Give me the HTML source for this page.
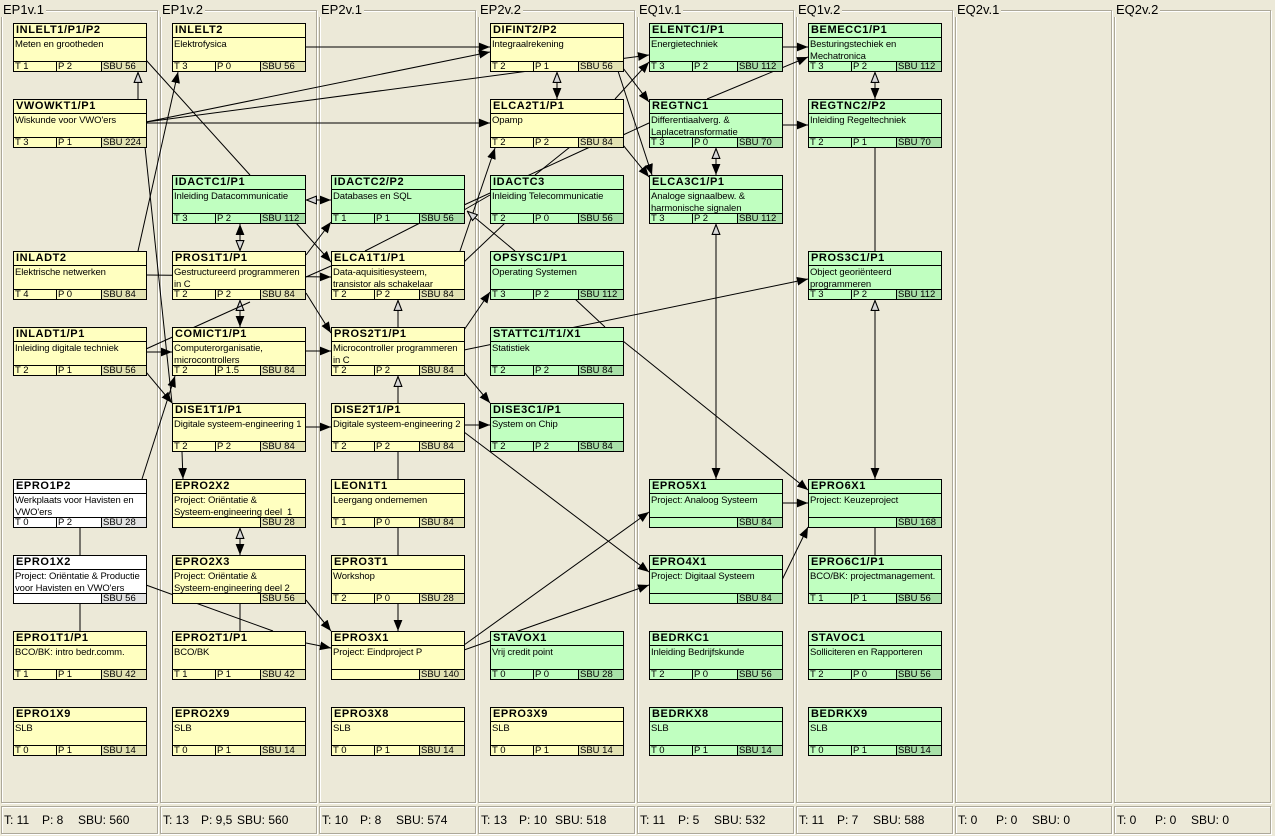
<!DOCTYPE html>
<html><head><meta charset="utf-8"><style>
*{box-sizing:border-box;margin:0;padding:0}
body{width:1275px;height:836px;background:#ece9d8;position:relative;overflow:hidden;font-family:"Liberation Sans",sans-serif;}
.col{position:absolute;top:10px;width:157px;height:793px;border:1px solid #aca899;box-shadow:inset 1px 1px 0 #fff,1px 1px 0 #fff}
.lab{position:absolute;top:3px;font-size:13px;background:#ece9d8;padding:0 2px 0 2px;color:#000;line-height:14px}
.ft{position:absolute;top:806px;width:157px;height:28px;border:1px solid #aca899;box-shadow:inset 1px 1px 0 #fff,1px 1px 0 #fff;font-size:12px}
.ft span{position:absolute;top:6px;white-space:nowrap}
.b{position:absolute;width:134px;height:49px;border:1px solid #000;background:#ffffc0}
.b.g{background:#c0ffc0}.b.w{background:#fff}
.t{height:14px;border-bottom:1px solid #000;font-weight:bold;font-size:11px;line-height:13px;padding-left:2px;letter-spacing:.6px;white-space:nowrap}
.d{height:23px;font-size:9.5px;line-height:12px;padding:1px 0 0 1px;overflow:hidden;letter-spacing:-0.1px}
.f{height:10px;border-top:1px solid #000;font-size:9.5px;line-height:9px;display:flex}
.f div{padding-left:1px;overflow:hidden;white-space:nowrap}
.f .c1{width:42px}.f .c2{width:45px;border-left:1px solid #000}.f .c3{flex:1;border-left:1px solid #000;background:#e3e3b3}
.g .f .c3{background:#a8e0a8}.w .f .c3{background:#e2e2e2}
svg{position:absolute;left:0;top:0}
</style></head><body>
<div class="col" style="left:1px"></div><div class="col" style="left:160px"></div><div class="col" style="left:319px"></div><div class="col" style="left:478px"></div><div class="col" style="left:637px"></div><div class="col" style="left:796px"></div><div class="col" style="left:955px"></div><div class="col" style="left:1114px"></div>
<div class="lab" style="left:1px">EP1v.1</div><div class="lab" style="left:160px">EP1v.2</div><div class="lab" style="left:319px">EP2v.1</div><div class="lab" style="left:478px">EP2v.2</div><div class="lab" style="left:637px">EQ1v.1</div><div class="lab" style="left:796px">EQ1v.2</div><div class="lab" style="left:955px">EQ2v.1</div><div class="lab" style="left:1114px">EQ2v.2</div>

<svg width="1275" height="836">
<defs>
<marker id="f" viewBox="0 0 10 8" refX="10" refY="4" markerWidth="11" markerHeight="9" markerUnits="userSpaceOnUse" orient="auto-start-reverse"><path d="M0,0L10,4L0,8z" fill="#000"/></marker>
<marker id="h" viewBox="0 0 10 8" refX="10" refY="4" markerWidth="11" markerHeight="9" markerUnits="userSpaceOnUse" orient="auto-start-reverse"><path d="M0.5,0.5L9.5,4L0.5,7.5z" fill="#d8d8d8" stroke="#000" stroke-width="1"/></marker>
</defs>
<g stroke="#000" stroke-width="1" fill="none">
<line x1="306" y1="47" x2="490" y2="47" marker-end="url(#f)"/>
<line x1="146" y1="122" x2="490" y2="52" marker-end="url(#f)"/>
<line x1="146" y1="122" x2="649" y2="55" marker-end="url(#f)"/>
<line x1="146" y1="123" x2="490" y2="123" marker-end="url(#f)"/>
<line x1="146" y1="60" x2="250" y2="175"/>
<line x1="138" y1="99" x2="138" y2="72" marker-end="url(#h)"/>
<line x1="138" y1="251" x2="178" y2="72" marker-end="url(#f)"/>
<line x1="145" y1="147" x2="172" y2="403"/>
<line x1="146" y1="275" x2="331" y2="277" marker-end="url(#f)"/>
<line x1="306" y1="277" x2="331" y2="266"/>
<line x1="306" y1="255" x2="331" y2="222" marker-end="url(#f)"/>
<line x1="306" y1="200" x2="331" y2="200" marker-start="url(#h)" marker-end="url(#f)"/>
<line x1="296" y1="223" x2="331" y2="262" marker-end="url(#f)"/>
<line x1="240" y1="224" x2="240" y2="251" marker-start="url(#f)" marker-end="url(#h)"/>
<line x1="240" y1="300" x2="240" y2="327" marker-start="url(#h)" marker-end="url(#f)"/>
<line x1="306" y1="293" x2="331" y2="333" marker-end="url(#f)"/>
<line x1="420" y1="223" x2="365" y2="251"/>
<line x1="398" y1="327" x2="398" y2="300" marker-end="url(#h)"/>
<line x1="398" y1="403" x2="398" y2="376" marker-end="url(#h)"/>
<line x1="306" y1="351" x2="331" y2="351" marker-end="url(#f)"/>
<line x1="146" y1="352" x2="172" y2="352" marker-end="url(#f)"/>
<line x1="146" y1="349" x2="250" y2="302"/>
<line x1="146" y1="372" x2="172" y2="403" marker-end="url(#f)"/>
<line x1="464" y1="330" x2="490" y2="292" marker-end="url(#f)"/>
<line x1="464" y1="350" x2="808" y2="279" marker-end="url(#f)"/>
<line x1="464" y1="372" x2="490" y2="403" marker-end="url(#f)"/>
<line x1="460" y1="251" x2="495" y2="148" marker-end="url(#f)"/>
<line x1="464" y1="262" x2="505" y2="223"/>
<line x1="464" y1="210" x2="490" y2="195"/>
<line x1="515" y1="251" x2="467" y2="211" marker-end="url(#h)"/>
<line x1="535" y1="175" x2="570" y2="147"/>
<line x1="464" y1="205" x2="590" y2="147"/>
<line x1="557" y1="72" x2="557" y2="99" marker-start="url(#h)" marker-end="url(#f)"/>
<line x1="623" y1="68" x2="649" y2="102" marker-end="url(#f)"/>
<line x1="618" y1="71" x2="652" y2="175" marker-end="url(#f)"/>
<line x1="615" y1="99" x2="649" y2="62" marker-end="url(#f)"/>
<line x1="623" y1="135" x2="649" y2="123"/>
<line x1="623" y1="145" x2="649" y2="177" marker-end="url(#f)"/>
<line x1="707" y1="99" x2="808" y2="57" marker-end="url(#f)"/>
<line x1="782" y1="47" x2="808" y2="47" marker-end="url(#f)"/>
<line x1="782" y1="125" x2="808" y2="125" marker-end="url(#f)"/>
<line x1="875" y1="72" x2="875" y2="99" marker-start="url(#h)" marker-end="url(#f)"/>
<line x1="716" y1="148" x2="716" y2="175" marker-start="url(#h)" marker-end="url(#f)"/>
<line x1="716" y1="224" x2="716" y2="479" marker-start="url(#h)" marker-end="url(#f)"/>
<line x1="875" y1="147" x2="875" y2="251"/>
<line x1="875" y1="300" x2="875" y2="479" marker-start="url(#h)" marker-end="url(#f)"/>
<line x1="575" y1="299" x2="605" y2="327"/>
<line x1="623" y1="341" x2="808" y2="490" marker-end="url(#f)"/>
<line x1="782" y1="503" x2="808" y2="503" marker-end="url(#f)"/>
<line x1="782" y1="580" x2="808" y2="527" marker-end="url(#f)"/>
<line x1="875" y1="527" x2="875" y2="555"/>
<line x1="464" y1="425" x2="490" y2="425" marker-end="url(#f)"/>
<line x1="306" y1="427" x2="331" y2="427" marker-end="url(#f)"/>
<line x1="464" y1="432" x2="649" y2="572" marker-end="url(#f)"/>
<line x1="182" y1="452" x2="183" y2="479" marker-end="url(#f)"/>
<line x1="240" y1="528" x2="240" y2="555" marker-start="url(#h)" marker-end="url(#f)"/>
<line x1="398" y1="451" x2="398" y2="479"/>
<line x1="398" y1="527" x2="398" y2="555"/>
<line x1="398" y1="603" x2="398" y2="631" marker-end="url(#f)"/>
<line x1="464" y1="650" x2="649" y2="585" marker-end="url(#f)"/>
<line x1="464" y1="645" x2="649" y2="512" marker-end="url(#f)"/>
<line x1="142" y1="479" x2="175" y2="376" marker-end="url(#f)"/>
<line x1="80" y1="527" x2="80" y2="555"/>
<line x1="80" y1="603" x2="80" y2="631"/>
<line x1="146" y1="585" x2="273" y2="631"/>
<line x1="240" y1="603" x2="240" y2="631"/>
<line x1="306" y1="600" x2="331" y2="631" marker-end="url(#f)"/>
<line x1="306" y1="643" x2="331" y2="648" marker-end="url(#f)"/>
</g></svg>

<!-- col 0 -->
<div class="b" style="left:13px;top:23px"><div class="t">INLELT1/P1/P2</div><div class="d">Meten en grootheden</div><div class="f"><div class="c1">T 1</div><div class="c2">P 2</div><div class="c3">SBU 56</div></div></div>
<div class="b" style="left:13px;top:99px"><div class="t">VWOWKT1/P1</div><div class="d">Wiskunde voor VWO'ers</div><div class="f"><div class="c1">T 3</div><div class="c2">P 1</div><div class="c3">SBU 224</div></div></div>
<div class="b" style="left:13px;top:251px"><div class="t">INLADT2</div><div class="d">Elektrische netwerken</div><div class="f"><div class="c1">T 4</div><div class="c2">P 0</div><div class="c3">SBU 84</div></div></div>
<div class="b" style="left:13px;top:327px"><div class="t">INLADT1/P1</div><div class="d">Inleiding digitale techniek</div><div class="f"><div class="c1">T 2</div><div class="c2">P 1</div><div class="c3">SBU 56</div></div></div>
<div class="b w" style="left:13px;top:479px"><div class="t">EPRO1P2</div><div class="d">Werkplaats voor Havisten en VWO'ers</div><div class="f"><div class="c1">T 0</div><div class="c2">P 2</div><div class="c3">SBU 28</div></div></div>
<div class="b w" style="left:13px;top:555px"><div class="t">EPRO1X2</div><div class="d">Project: Oriëntatie &amp; Productie voor Havisten en VWO'ers</div><div class="f"><div class="c1"></div><div class="c2" style="border-left:0"></div><div class="c3">SBU 56</div></div></div>
<div class="b" style="left:13px;top:631px"><div class="t">EPRO1T1/P1</div><div class="d">BCO/BK: intro bedr.comm.</div><div class="f"><div class="c1">T 1</div><div class="c2">P 1</div><div class="c3">SBU 42</div></div></div>
<div class="b" style="left:13px;top:707px"><div class="t">EPRO1X9</div><div class="d">SLB</div><div class="f"><div class="c1">T 0</div><div class="c2">P 1</div><div class="c3">SBU 14</div></div></div>
<!-- col 1 -->
<div class="b" style="left:172px;top:23px"><div class="t">INLELT2</div><div class="d">Elektrofysica</div><div class="f"><div class="c1">T 3</div><div class="c2">P 0</div><div class="c3">SBU 56</div></div></div>
<div class="b g" style="left:172px;top:175px"><div class="t">IDACTC1/P1</div><div class="d">Inleiding Datacommunicatie</div><div class="f"><div class="c1">T 3</div><div class="c2">P 2</div><div class="c3">SBU 112</div></div></div>
<div class="b" style="left:172px;top:251px"><div class="t">PROS1T1/P1</div><div class="d">Gestructureerd programmeren in C</div><div class="f"><div class="c1">T 2</div><div class="c2">P 2</div><div class="c3">SBU 84</div></div></div>
<div class="b" style="left:172px;top:327px"><div class="t">COMICT1/P1</div><div class="d">Computerorganisatie, microcontrollers</div><div class="f"><div class="c1">T 2</div><div class="c2">P 1.5</div><div class="c3">SBU 84</div></div></div>
<div class="b" style="left:172px;top:403px"><div class="t">DISE1T1/P1</div><div class="d">Digitale systeem-engineering 1</div><div class="f"><div class="c1">T 2</div><div class="c2">P 2</div><div class="c3">SBU 84</div></div></div>
<div class="b" style="left:172px;top:479px"><div class="t">EPRO2X2</div><div class="d">Project: Oriëntatie &amp;<br>Systeem-engineering deel&nbsp; 1</div><div class="f"><div class="c1"></div><div class="c2" style="border-left:0"></div><div class="c3">SBU 28</div></div></div>
<div class="b" style="left:172px;top:555px"><div class="t">EPRO2X3</div><div class="d">Project: Oriëntatie &amp;<br>Systeem-engineering deel 2</div><div class="f"><div class="c1"></div><div class="c2" style="border-left:0"></div><div class="c3">SBU 56</div></div></div>
<div class="b" style="left:172px;top:631px"><div class="t">EPRO2T1/P1</div><div class="d">BCO/BK</div><div class="f"><div class="c1">T 1</div><div class="c2">P 1</div><div class="c3">SBU 42</div></div></div>
<div class="b" style="left:172px;top:707px"><div class="t">EPRO2X9</div><div class="d">SLB</div><div class="f"><div class="c1">T 0</div><div class="c2">P 1</div><div class="c3">SBU 14</div></div></div>
<!-- col 2 -->
<div class="b g" style="left:331px;top:175px"><div class="t">IDACTC2/P2</div><div class="d">Databases en SQL</div><div class="f"><div class="c1">T 1</div><div class="c2">P 1</div><div class="c3">SBU 56</div></div></div>
<div class="b" style="left:331px;top:251px"><div class="t">ELCA1T1/P1</div><div class="d">Data-aquisitiesysteem, transistor als schakelaar</div><div class="f"><div class="c1">T 2</div><div class="c2">P 2</div><div class="c3">SBU 84</div></div></div>
<div class="b" style="left:331px;top:327px"><div class="t">PROS2T1/P1</div><div class="d">Microcontroller programmeren in C</div><div class="f"><div class="c1">T 2</div><div class="c2">P 2</div><div class="c3">SBU 84</div></div></div>
<div class="b" style="left:331px;top:403px"><div class="t">DISE2T1/P1</div><div class="d">Digitale systeem-engineering 2</div><div class="f"><div class="c1">T 2</div><div class="c2">P 2</div><div class="c3">SBU 84</div></div></div>
<div class="b" style="left:331px;top:479px"><div class="t">LEON1T1</div><div class="d">Leergang ondernemen</div><div class="f"><div class="c1">T 1</div><div class="c2">P 0</div><div class="c3">SBU 84</div></div></div>
<div class="b" style="left:331px;top:555px"><div class="t">EPRO3T1</div><div class="d">Workshop</div><div class="f"><div class="c1">T 2</div><div class="c2">P 0</div><div class="c3">SBU 28</div></div></div>
<div class="b" style="left:331px;top:631px"><div class="t">EPRO3X1</div><div class="d">Project: Eindproject P</div><div class="f"><div class="c1"></div><div class="c2" style="border-left:0"></div><div class="c3">SBU 140</div></div></div>
<div class="b" style="left:331px;top:707px"><div class="t">EPRO3X8</div><div class="d">SLB</div><div class="f"><div class="c1">T 0</div><div class="c2">P 1</div><div class="c3">SBU 14</div></div></div>
<!-- col 3 -->
<div class="b" style="left:490px;top:23px"><div class="t">DIFINT2/P2</div><div class="d">Integraalrekening</div><div class="f"><div class="c1">T 2</div><div class="c2">P 1</div><div class="c3">SBU 56</div></div></div>
<div class="b" style="left:490px;top:99px"><div class="t">ELCA2T1/P1</div><div class="d">Opamp</div><div class="f"><div class="c1">T 2</div><div class="c2">P 2</div><div class="c3">SBU 84</div></div></div>
<div class="b g" style="left:490px;top:175px"><div class="t">IDACTC3</div><div class="d">Inleiding Telecommunicatie</div><div class="f"><div class="c1">T 2</div><div class="c2">P 0</div><div class="c3">SBU 56</div></div></div>
<div class="b g" style="left:490px;top:251px"><div class="t">OPSYSC1/P1</div><div class="d">Operating Systemen</div><div class="f"><div class="c1">T 3</div><div class="c2">P 2</div><div class="c3">SBU 112</div></div></div>
<div class="b g" style="left:490px;top:327px"><div class="t">STATTC1/T1/X1</div><div class="d">Statistiek</div><div class="f"><div class="c1">T 2</div><div class="c2">P 2</div><div class="c3">SBU 84</div></div></div>
<div class="b g" style="left:490px;top:403px"><div class="t">DISE3C1/P1</div><div class="d">System on Chip</div><div class="f"><div class="c1">T 2</div><div class="c2">P 2</div><div class="c3">SBU 84</div></div></div>
<div class="b g" style="left:490px;top:631px"><div class="t">STAVOX1</div><div class="d">Vrij credit point</div><div class="f"><div class="c1">T 0</div><div class="c2">P 0</div><div class="c3">SBU 28</div></div></div>
<div class="b" style="left:490px;top:707px"><div class="t">EPRO3X9</div><div class="d">SLB</div><div class="f"><div class="c1">T 0</div><div class="c2">P 1</div><div class="c3">SBU 14</div></div></div>
<!-- col 4 -->
<div class="b g" style="left:649px;top:23px"><div class="t">ELENTC1/P1</div><div class="d">Energietechniek</div><div class="f"><div class="c1">T 3</div><div class="c2">P 2</div><div class="c3">SBU 112</div></div></div>
<div class="b g" style="left:649px;top:99px"><div class="t">REGTNC1</div><div class="d">Differentiaalverg. &amp; Laplacetransformatie</div><div class="f"><div class="c1">T 3</div><div class="c2">P 0</div><div class="c3">SBU 70</div></div></div>
<div class="b g" style="left:649px;top:175px"><div class="t">ELCA3C1/P1</div><div class="d">Analoge signaalbew. &amp; harmonische signalen</div><div class="f"><div class="c1">T 3</div><div class="c2">P 2</div><div class="c3">SBU 112</div></div></div>
<div class="b g" style="left:649px;top:479px"><div class="t">EPRO5X1</div><div class="d">Project: Analoog Systeem</div><div class="f"><div class="c1"></div><div class="c2" style="border-left:0"></div><div class="c3">SBU 84</div></div></div>
<div class="b g" style="left:649px;top:555px"><div class="t">EPRO4X1</div><div class="d">Project: Digitaal Systeem</div><div class="f"><div class="c1"></div><div class="c2" style="border-left:0"></div><div class="c3">SBU 84</div></div></div>
<div class="b g" style="left:649px;top:631px"><div class="t">BEDRKC1</div><div class="d">Inleiding Bedrijfskunde</div><div class="f"><div class="c1">T 2</div><div class="c2">P 0</div><div class="c3">SBU 56</div></div></div>
<div class="b g" style="left:649px;top:707px"><div class="t">BEDRKX8</div><div class="d">SLB</div><div class="f"><div class="c1">T 0</div><div class="c2">P 1</div><div class="c3">SBU 14</div></div></div>
<!-- col 5 -->
<div class="b g" style="left:808px;top:23px"><div class="t">BEMECC1/P1</div><div class="d">Besturingstechiek en Mechatronica</div><div class="f"><div class="c1">T 3</div><div class="c2">P 2</div><div class="c3">SBU 112</div></div></div>
<div class="b g" style="left:808px;top:99px"><div class="t">REGTNC2/P2</div><div class="d">Inleiding Regeltechniek</div><div class="f"><div class="c1">T 2</div><div class="c2">P 1</div><div class="c3">SBU 70</div></div></div>
<div class="b g" style="left:808px;top:251px"><div class="t">PROS3C1/P1</div><div class="d">Object georiënteerd programmeren</div><div class="f"><div class="c1">T 3</div><div class="c2">P 2</div><div class="c3">SBU 112</div></div></div>
<div class="b g" style="left:808px;top:479px"><div class="t">EPRO6X1</div><div class="d">Project: Keuzeproject</div><div class="f"><div class="c1"></div><div class="c2" style="border-left:0"></div><div class="c3">SBU 168</div></div></div>
<div class="b g" style="left:808px;top:555px"><div class="t">EPRO6C1/P1</div><div class="d">BCO/BK: projectmanagement.</div><div class="f"><div class="c1">T 1</div><div class="c2">P 1</div><div class="c3">SBU 56</div></div></div>
<div class="b g" style="left:808px;top:631px"><div class="t">STAVOC1</div><div class="d">Solliciteren en Rapporteren</div><div class="f"><div class="c1">T 2</div><div class="c2">P 0</div><div class="c3">SBU 56</div></div></div>
<div class="b g" style="left:808px;top:707px"><div class="t">BEDRKX9</div><div class="d">SLB</div><div class="f"><div class="c1">T 0</div><div class="c2">P 1</div><div class="c3">SBU 14</div></div></div>

<!-- footers -->
<div class="ft" style="left:1px"><span style="left:2px">T: 11</span><span style="left:40px">P: 8</span><span style="left:76px">SBU: 560</span></div>
<div class="ft" style="left:160px"><span style="left:2px">T: 13</span><span style="left:40px">P: 9,5</span><span style="left:76px">SBU: 560</span></div>
<div class="ft" style="left:319px"><span style="left:2px">T: 10</span><span style="left:40px">P: 8</span><span style="left:76px">SBU: 574</span></div>
<div class="ft" style="left:478px"><span style="left:2px">T: 13</span><span style="left:40px">P: 10</span><span style="left:76px">SBU: 518</span></div>
<div class="ft" style="left:637px"><span style="left:2px">T: 11</span><span style="left:40px">P: 5</span><span style="left:76px">SBU: 532</span></div>
<div class="ft" style="left:796px"><span style="left:2px">T: 11</span><span style="left:40px">P: 7</span><span style="left:76px">SBU: 588</span></div>
<div class="ft" style="left:955px"><span style="left:2px">T: 0</span><span style="left:40px">P: 0</span><span style="left:76px">SBU: 0</span></div>
<div class="ft" style="left:1114px"><span style="left:2px">T: 0</span><span style="left:40px">P: 0</span><span style="left:76px">SBU: 0</span></div>
</body></html>
